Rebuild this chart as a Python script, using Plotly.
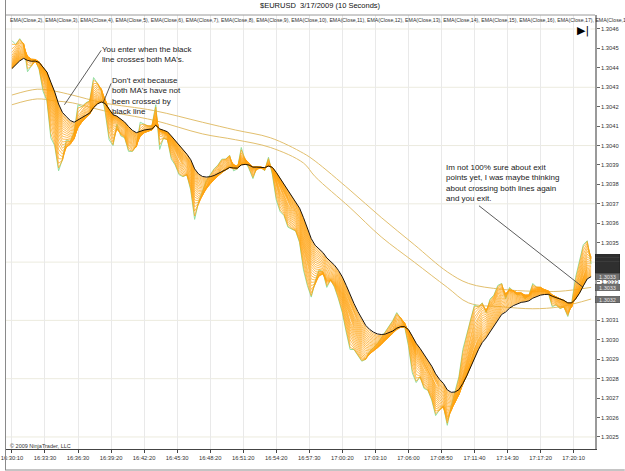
import plotly.graph_objects as go

# ---------------- data ----------------
title_text = "$EURUSD\u00a0 3/17/2009 (10 Seconds)"
tick_labels = ["16:30:10", "16:33:30", "16:36:30", "16:39:20", "16:42:20", "16:45:30",
               "16:48:20", "16:51:20", "16:54:20", "16:57:30", "17:00:20", "17:03:10",
               "17:06:00", "17:08:50", "17:11:40", "17:14:30", "17:17:20", "17:20:10"]
tick_bars = [0, 17, 34, 51, 68, 85, 102, 119, 136, 153, 170, 187, 204, 221, 238, 255, 272, 289]

# close prices sampled every 2 bars (20 s)
close_step = 2
close = [
    1.30454, 1.30452, 1.30455, 1.30452, 1.30438, 1.30441, 1.30444, 1.30439, 1.30428, 1.30423,
    1.30404, 1.30400, 1.30387, 1.30393, 1.30403, 1.30402, 1.30407, 1.30421, 1.30420, 1.30422,
    1.30423, 1.30435, 1.30432, 1.30428, 1.30417, 1.30403, 1.30400, 1.30411, 1.30405, 1.30404,
    1.30397, 1.30397, 1.30400, 1.30412, 1.30411, 1.30410, 1.30410, 1.30421, 1.30398, 1.30404,
    1.30403, 1.30393, 1.30390, 1.30385, 1.30384, 1.30385, 1.30377, 1.30362, 1.30371, 1.30377,
    1.30382, 1.30385, 1.30388, 1.30390, 1.30393, 1.30393, 1.30395, 1.30387, 1.30388, 1.30399,
    1.30392, 1.30388, 1.30383, 1.30389, 1.30389, 1.30387, 1.30394, 1.30385, 1.30372, 1.30366,
    1.30364, 1.30358, 1.30357, 1.30356, 1.30350, 1.30336, 1.30328, 1.30322, 1.30330, 1.30336,
    1.30335, 1.30327, 1.30331, 1.30327, 1.30321, 1.30314, 1.30304, 1.30295, 1.30295, 1.30292,
    1.30289, 1.30290, 1.30294, 1.30296, 1.30298, 1.30301, 1.30304, 1.30307, 1.30310, 1.30314,
    1.30311, 1.30307, 1.30297, 1.30283, 1.30278, 1.30281, 1.30275, 1.30274, 1.30269, 1.30261,
    1.30264, 1.30266, 1.30256, 1.30266, 1.30274, 1.30281, 1.30295, 1.30303, 1.30311, 1.30318,
    1.30317, 1.30319, 1.30314, 1.30321, 1.30323, 1.30328, 1.30329, 1.30321, 1.30327, 1.30325,
    1.30323, 1.30324, 1.30321, 1.30323, 1.30329, 1.30327, 1.30327, 1.30325, 1.30324, 1.30317,
    1.30318, 1.30316, 1.30317, 1.30312, 1.30319, 1.30332, 1.30340, 1.30349, 1.30351, 1.30339,
]
ema_periods_orange = list(range(2, 24))
ema_period_black = 24
ema_seed = 1.30437

ma_upper_bars = [0, 13, 22, 31, 47, 73, 98, 115, 133, 150, 156, 174, 190, 207, 224, 235, 252, 268, 282, 298]
ma_upper = [1.30426, 1.30429, 1.30428, 1.30426, 1.30422, 1.30418, 1.30412, 1.30408, 1.30404, 1.30396,
            1.30392, 1.30377, 1.30363, 1.30349, 1.30335, 1.30329, 1.30326, 1.30325, 1.30325, 1.30327]
ma_lower_bars = ma_upper_bars
ma_lower = [1.30421, 1.30424, 1.30423, 1.30422, 1.30418, 1.30413, 1.30406, 1.30403, 1.30399, 1.30391,
            1.30384, 1.30368, 1.30353, 1.30340, 1.30327, 1.30319, 1.30317, 1.30316, 1.30317, 1.30321]

y_tick_start, y_tick_end, y_tick_step = 1.3025, 1.3046, 0.0001
y_grid_step = 0.0003

callout_texts = [
    "You enter when the black<br>line crosses both MA's.",
    "Don't exit because<br>both MA's have not<br>been crossed by<br>black line",
    "Im not 100% sure about exit<br>points yet, I was maybe thinking<br>about crossing both lines again<br>and you exit.",
]
callout_text_pos = [(45.2, 1.30453), (50.3, 1.30437), (222.2, 1.30392)]
callout_lines = [((45.9, 1.30449), (27.0, 1.30421)),
                 ((51.0, 1.30432), (46.9, 1.30422)),
                 ((240.3, 1.30369), (293.9, 1.30327))]

# ---------------- helpers ----------------
def ema(values, period, step, seed):
    a = 2.0 / (period + 1)
    a_eff = 1 - (1 - a) ** step
    out, prev = [], seed
    for v in values:
        prev = prev + a_eff * (v - prev)
        out.append(prev)
    return out

close_bars = [i * close_step for i in range(len(close))]

FONT = "Arial, Liberation Sans, sans-serif"
fig = go.Figure()

fig.add_trace(go.Scatter(x=ma_upper_bars, y=ma_upper, mode="lines", line=dict(color="#e2bf6e", width=1, shape="spline"),
                         hoverinfo="skip", showlegend=False))
fig.add_trace(go.Scatter(x=ma_lower_bars, y=ma_lower, mode="lines", line=dict(color="#e2bf6e", width=1, shape="spline"),
                         hoverinfo="skip", showlegend=False))
fig.add_trace(go.Scatter(x=close_bars, y=close, mode="lines", line=dict(color="#92dea0", width=1),
                         hoverinfo="skip", showlegend=False))

ema_last = []
for p in ema_periods_orange:
    e = ema(close, p, close_step, ema_seed)
    ema_last.append(e[-1])
    fig.add_trace(go.Scatter(x=close_bars, y=e, mode="lines", line=dict(color="#ffa20f", width=0.7),
                             hoverinfo="skip", showlegend=False))
black = ema(close, ema_period_black, close_step, ema_seed)
fig.add_trace(go.Scatter(x=close_bars, y=black, mode="lines", line=dict(color="#1a1208", width=1),
                         hoverinfo="skip", showlegend=False))

# horizontal grid
shapes = []
n_grid = int(round((y_tick_end - y_tick_start) / y_grid_step)) + 1
for i in range(n_grid):
    gv = y_tick_start + i * y_grid_step
    shapes.append(dict(type="line", xref="paper", x0=0, x1=1, yref="y", y0=gv, y1=gv,
                       line=dict(color="#ecebdf", width=1), layer="below"))

for (a, b) in callout_lines:
    shapes.append(dict(type="line", xref="x", yref="y", x0=a[0], y0=a[1], x1=b[0], y1=b[1],
                       line=dict(color="#333333", width=0.8)))

# figure border (left & bottom)
L, R, T, B = 1, 30, 15, 22
W, H = 625, 471
pw, ph = W - L - R, H - T - B
def px(x):
    return (x - L) / pw
def py(y):
    return (H - B - y) / ph
shapes.append(dict(type="line", xref="paper", yref="paper", x0=px(0.5), x1=px(0.5), y0=py(0), y1=py(470),
                   line=dict(color="#8a8a8a", width=1)))
shapes.append(dict(type="line", xref="paper", yref="paper", x0=px(0), x1=px(625), y0=py(470), y1=py(470),
                   line=dict(color="#8a8a8a", width=1)))

annotations = []
annotations.append(dict(text=title_text, xref="paper", yref="paper", x=px(318), y=py(6), showarrow=False,
                        xanchor="center", yanchor="middle", font=dict(family=FONT, size=7.5, color="#111")))
legend_row = ", ".join(f"EMA(Close,{p})" for p in list(range(2, 21)))
annotations.append(dict(text=legend_row, xref="paper", yref="paper", x=px(3), y=py(19.5), showarrow=False,
                        xanchor="left", yanchor="middle", font=dict(family=FONT, size=5.2, color="#333")))
annotations.append(dict(text="\u00a9 2009 NinjaTrader, LLC", xref="paper", yref="paper", x=px(3), y=py(446),
                        showarrow=False, xanchor="left", yanchor="middle", font=dict(family=FONT, size=5.5, color="#333")))
annotations.append(dict(text="\u25b6|", xref="paper", yref="paper", x=px(575), y=py(31), showarrow=False,
                        xanchor="left", yanchor="middle", bgcolor="white",
                        font=dict(family="DejaVu Sans", size=11, color="#000")))

for t, (bx, by) in zip(callout_texts, callout_text_pos):
    annotations.append(dict(text=t, xref="x", yref="y", x=bx, y=by, showarrow=False, xanchor="left",
                            yanchor="top", align="left", font=dict(family=FONT, size=8, color="#222")))

# last-value markers on price axis
for v in [close[-1]] + ema_last:
    annotations.append(dict(text=f"{v:.4f}", xref="paper", yref="y", x=1.0, y=v, showarrow=False,
                            xanchor="left", yanchor="middle", bgcolor="#3c3c3c", bordercolor="#222",
                            borderwidth=0.5, borderpad=0, width=24,
                            font=dict(family=FONT, size=5.5, color="#4a4a4a")))
for v in [black[-1], ma_upper[-1], ma_lower[-1]]:
    annotations.append(dict(text=f"{v:.4f}", xref="paper", yref="y", x=1.0, y=v, showarrow=False,
                            xanchor="left", yanchor="middle", bgcolor="#6f6f6f", bordercolor="#444",
                            borderwidth=0.5, borderpad=0, width=24,
                            font=dict(family=FONT, size=5.5, color="#e6e6e6")))

n_ticks = int(round((y_tick_end - y_tick_start) / y_tick_step)) + 1
y_tickvals = [round(y_tick_start + i * y_tick_step, 4) for i in range(n_ticks)]

fig.update_layout(
    width=W, height=H,
    margin=dict(l=L, r=R, t=T, b=B, pad=0),
    paper_bgcolor="white", plot_bgcolor="white",
    showlegend=False,
    shapes=shapes, annotations=annotations,
    xaxis=dict(range=[-3.06, 300], tickmode="array", tickvals=tick_bars, ticktext=tick_labels,
               showgrid=True, gridcolor="#e9e9e9", gridwidth=1, zeroline=False,
               showline=True, linecolor="#444", linewidth=1, mirror=False,
               ticks="outside", ticklen=3, tickcolor="#444", ticklabeloverflow="allow",
               tickfont=dict(family=FONT, size=5.8, color="#333")),
    yaxis=dict(range=[1.302438, 1.304672], side="right", tickmode="array", tickvals=y_tickvals,
               ticktext=[f"{v:.4f}" for v in y_tickvals], showgrid=False, zeroline=False,
               showline=True, linecolor="#9a9a9a", linewidth=1.5, mirror=False,
               ticks="outside", ticklen=3, tickcolor="#666", ticklabeloverflow="allow",
               tickfont=dict(family=FONT, size=5.8, color="#333")),
)
fig.add_shape(type="line", xref="paper", yref="paper", x0=0, x1=1, y0=1, y1=1,
              line=dict(color="#9a9a9a", width=1))

fig.write_html("out.html")
